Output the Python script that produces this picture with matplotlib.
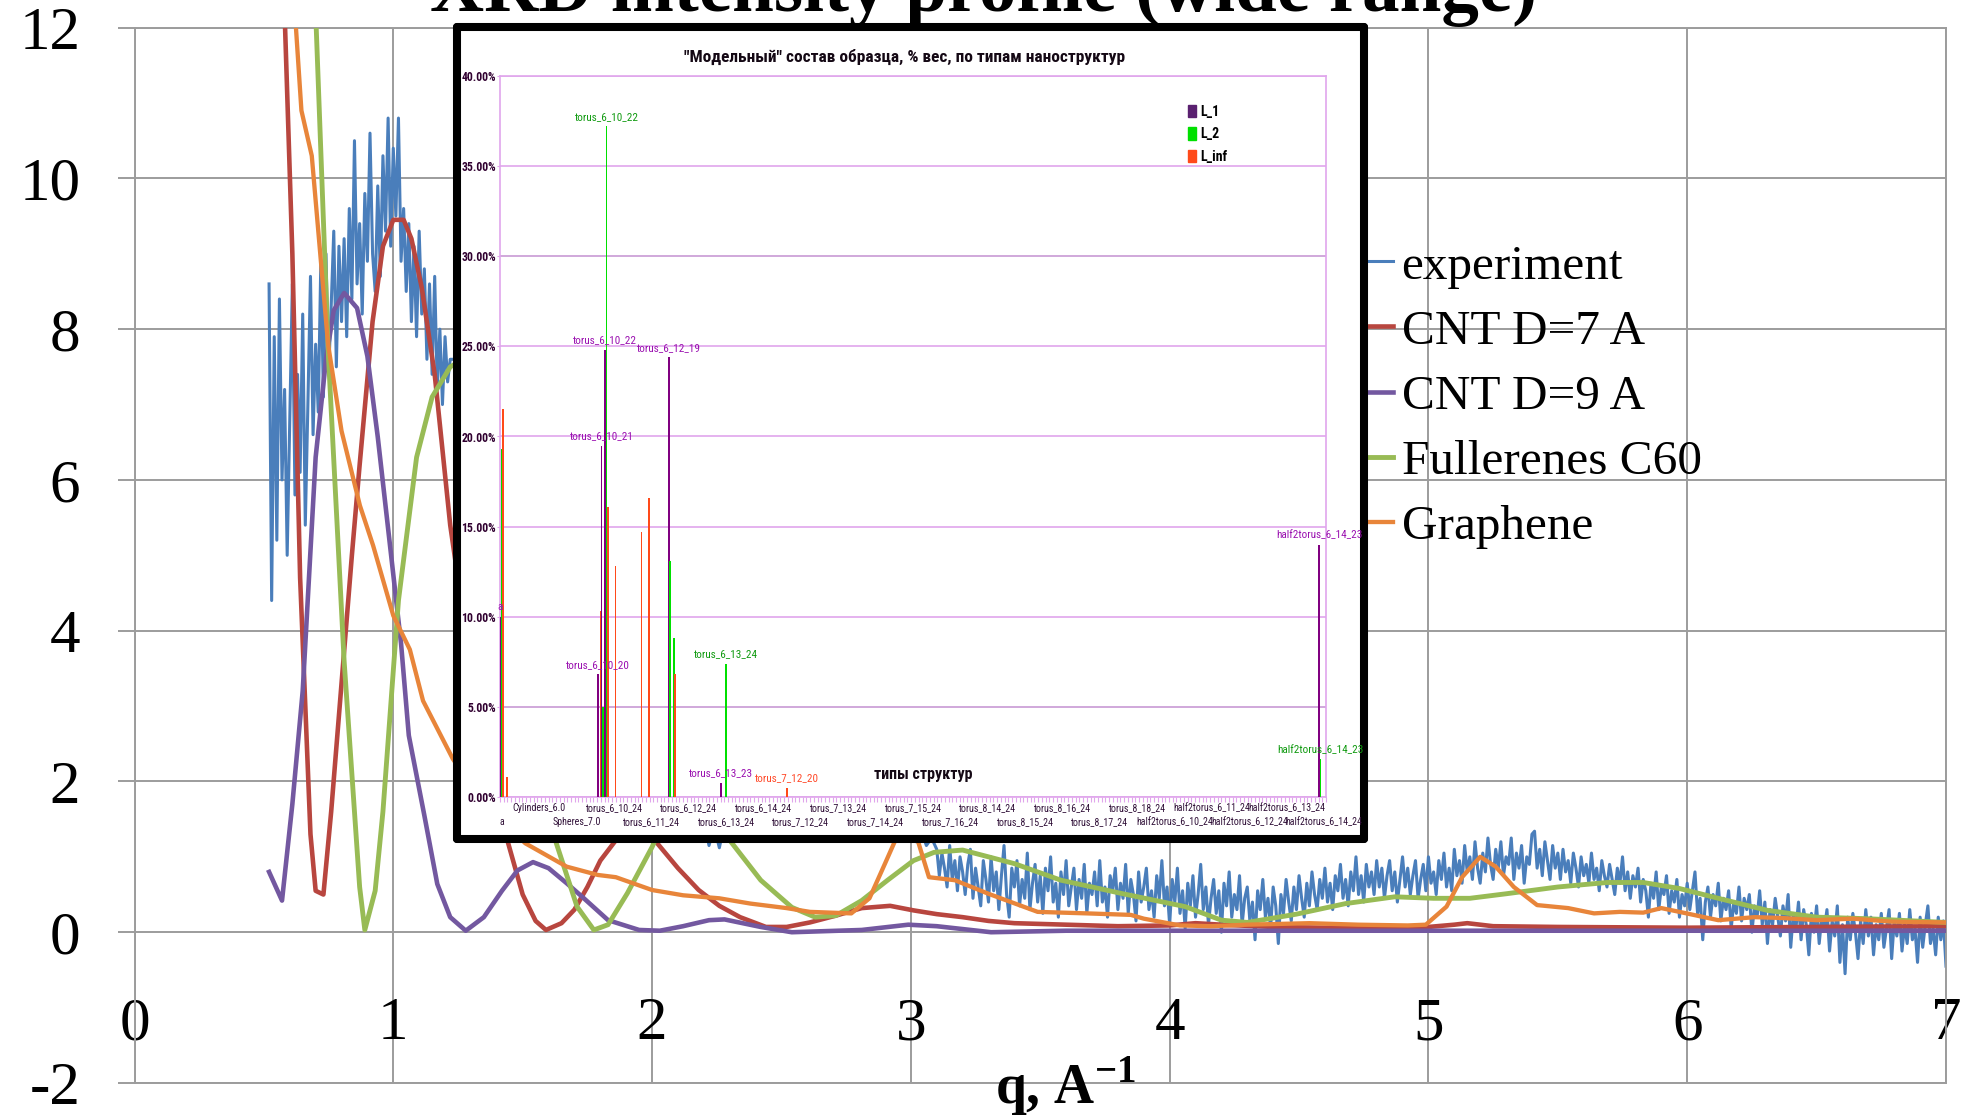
import numpy as np
import matplotlib
matplotlib.use('Agg')
import matplotlib.pyplot as plt
from matplotlib import font_manager as fm
from matplotlib.font_manager import FontProperties
from matplotlib.patches import Patch
from matplotlib.ticker import PercentFormatter

plt.rcParams['font.family'] = ['Liberation Serif', 'DejaVu Serif']
plt.rcParams['mathtext.fontset'] = 'custom'
plt.rcParams['mathtext.rm'] = 'Liberation Serif'
plt.rcParams['mathtext.bf'] = 'Liberation Serif:bold'
plt.rcParams['axes.unicode_minus'] = False


def pick_narrow():
    """Narrowest sans face available for the small chart texts."""
    faces = [(f.name, str(f.stretch)) for f in fm.fontManager.ttflist]
    for nm in ['Liberation Sans Narrow', 'Arial Narrow', 'Roboto Condensed', 'Noto Sans Condensed',
               'Open Sans Condensed']:
        if any(n == nm for n, s in faces):
            return dict(family=[nm, 'DejaVu Sans']), 1.0
    if any(n == 'DejaVu Sans' and 'condensed' in s for n, s in faces):
        return dict(family=['DejaVu Sans'], stretch='condensed'), 0.88
    return dict(family=['Liberation Sans', 'DejaVu Sans']), 0.8


NARROW, NSCALE = pick_narrow()


def nfont(size, weight='normal'):
    return FontProperties(size=size * NSCALE, weight=weight, **NARROW)


# ---------------- XRD profiles ----------------
# experiment, four runs: (first q, step, intensities)
exp_q_a, exp_dq_a = 0.52, 0.01
exp_I_a = [8.6, 4.4, 7.9, 5.2, 8.4, 6.0, 7.2, 5.0, 6.8, 8.6,
           5.8, 7.4, 6.1, 8.2, 5.4, 7.0, 8.7, 6.6, 7.8, 6.9,
           8.9, 7.1, 9.0, 7.4, 8.3, 9.3, 7.5, 9.1, 8.1, 9.2,
           7.9, 9.6, 8.4, 10.5, 8.6, 9.4, 8.2, 9.8, 8.9, 10.6,
           9.0, 8.5, 9.9, 8.7, 10.3, 9.3, 10.8, 9.1, 10.4, 9.5,
           10.8, 8.9, 9.6, 8.5, 9.4, 8.1, 9.1, 7.9, 9.3, 8.2,
           8.8, 7.6, 8.6, 7.4, 8.7, 7.2, 8.0, 7.0, 7.9, 7.3,
           7.6]
exp_q_b, exp_dq_b = 1.24, 0.02
exp_I_b = [7.6, 7.0, 7.4, 6.6, 6.9, 6.2, 6.4, 5.8, 6.0, 5.3, 5.5, 4.9, 5.0, 4.5,
           4.6, 4.1, 4.2, 3.8, 3.9, 3.5, 3.6, 3.2, 3.3, 3.0, 3.0, 2.7, 2.8, 2.5, 2.6,
           2.3, 2.4, 2.2, 2.3, 2.0, 2.1, 1.9, 2.0, 1.8, 1.9, 1.7, 1.8, 1.6, 1.7, 1.5,
           1.6, 1.45, 1.55, 1.4, 1.5,
           1.15, 1.4, 1.12, 1.45, 1.35, 1.5, 1.4, 1.55, 1.45, 1.6, 1.5, 1.65, 1.5, 1.7, 1.55,
           1.7, 1.6, 1.8, 1.65, 1.85, 1.7, 1.9, 1.75, 1.9, 1.8, 1.95, 1.8, 1.9, 1.75, 1.85,
           1.7, 1.8, 1.6, 1.7, 1.5, 1.6, 1.4, 1.5, 1.3, 1.45, 1.2, 1.35, 1.15, 1.25]
exp_q_c, exp_dq_c = 3.10, 0.01
exp_I_c = [1.10, 0.75, 1.05, 0.85, 0.60, 1.15, 0.70, 0.95, 0.55, 1.00,
           0.80, 0.50, 0.90, 1.10, 0.45, 0.85, 0.60, 0.35, 0.95, 0.70,
           0.40, 1.00, 0.55, 0.80, 0.30, 0.75, 1.15, 0.50, 0.20, 0.85,
           0.60, 0.95, 0.35, 0.70, 0.45, 1.05, 0.30, 0.65, 0.90, 0.40,
           0.75, 0.25, 0.85, 0.55, 1.00, 0.40, 0.65, 0.20, 0.80, 0.50,
           0.95, 0.35, 0.60, 0.85, 0.30, 0.70, 0.45, 0.90, 0.25, 0.65,
           0.50, 0.80, 0.35, 0.95, 0.40, 0.60, 0.20, 0.75, 0.55, 0.85,
           0.30, 0.65, 0.45, 0.90, 0.25, 0.70, 0.50, 0.15, 0.80, 0.40,
           0.60, 0.85, 0.30, 0.55, 0.20, 0.75, 0.45, 0.95, 0.35, 0.60,
           0.10, 0.70, 0.40, 0.85, 0.25, 0.55, 0.05, 0.65, 0.35, 0.75,
           0.20, 0.50, 0.90, 0.30, 0.60, 0.10, 0.45, 0.70, 0.25, 0.55,
           0.00, 0.65, 0.35, 0.80, 0.20, 0.50, 0.30, 0.75, 0.10, 0.45,
           0.60, 0.15, 0.40, -0.10, 0.55, 0.30, 0.70, 0.20, 0.45, 0.05,
           0.60, 0.35, -0.15, 0.50, 0.25, 0.70, 0.40, 0.15, 0.60, 0.30,
           0.75, 0.45, 0.20, 0.65, 0.35, 0.80, 0.50, 0.30, 0.70, 0.45,
           0.85, 0.40, 0.65, 0.30, 0.75, 0.55, 0.90, 0.45, 0.70, 0.35,
           0.80, 0.55, 1.00, 0.50, 0.75, 0.40, 0.90, 0.60, 0.80, 0.50,
           0.95]
exp_q_d, exp_dq_d = 4.81, 0.01
exp_I_d = [0.60, 0.85, 0.45, 0.75, 0.95, 0.55, 0.80, 0.40, 0.70, 1.00,
           0.60, 0.85, 0.50, 0.75, 0.95, 0.45, 0.70, 0.90, 0.55, 1.00,
           0.65, 0.80, 0.50, 0.95, 0.70, 1.05, 0.60, 0.85, 0.55, 1.10,
           0.75, 0.95, 0.65, 1.15, 0.80, 1.00, 0.70, 1.20, 0.85, 0.65,
           1.05, 0.80, 1.25, 0.90, 0.70, 1.10, 0.85, 1.20, 0.75, 1.00,
           0.90, 1.25, 0.70, 1.05, 0.85, 1.15, 0.65, 1.00, 0.90, 1.30,
           1.34, 0.85, 1.10, 0.75, 1.20, 0.95, 0.70, 1.15, 0.85, 1.05,
           0.70, 1.10, 0.80, 0.95, 0.65, 1.05, 0.85, 0.60, 1.00, 0.75,
           0.90, 0.65, 1.05, 0.70, 0.85, 0.55, 0.95, 0.75, 0.60, 0.90,
           0.70, 0.50, 0.85, 0.65, 1.00, 0.55, 0.80, 0.45, 0.75, 0.60,
           0.85, 0.40, 0.70, 0.55, 0.20, 0.65, 0.45, 0.80, 0.30, 0.60,
           0.50, 0.75, 0.25, 0.55, 0.40, 0.70, 0.20, 0.50, 0.35, 0.65,
           0.30, 0.55, 0.80, 0.25, 0.45, -0.10, 0.40, 0.60, 0.20, 0.50,
           0.35, 0.65, 0.15, 0.45, 0.30, 0.55, 0.05, 0.40, 0.25, 0.60,
           0.15, 0.45, 0.30, 0.50, 0.00, 0.35, 0.20, 0.55, 0.10, 0.40,
           -0.15, 0.30, 0.10, 0.45, 0.20, -0.05, 0.35, 0.15, 0.50, -0.20,
           0.25, 0.05, 0.40, -0.10, 0.30, 0.10, -0.30, 0.25, 0.00, 0.35,
           -0.15, 0.20, 0.05, 0.30, -0.25, 0.15, -0.05, 0.35, -0.40, 0.10,
           -0.55, 0.20, -0.10, 0.25, 0.00, -0.35, 0.15, -0.15, 0.30, -0.05,
           0.20, -0.30, 0.10, -0.10, 0.25, -0.20, 0.05, 0.30, -0.35, 0.15,
           -0.05, 0.25, -0.25, 0.10, -0.15, 0.30, -0.10, 0.05, -0.40, 0.20,
           -0.20, 0.10, 0.35, -0.15, 0.05, -0.30, 0.20, -0.10, 0.15, -0.45]

cnt7_q = [0.52, 0.55, 0.58, 0.61, 0.64, 0.68, 0.70, 0.73, 0.76, 0.80, 0.84, 0.87, 0.92, 0.96, 1.00, 1.04,
          1.07, 1.11, 1.16, 1.22, 1.30, 1.37, 1.43, 1.50, 1.55, 1.59, 1.65, 1.70, 1.75, 1.80, 1.86, 1.94,
          2.02, 2.10, 2.18, 2.26, 2.34, 2.44, 2.52, 2.61, 2.71, 2.81, 2.92, 3.01, 3.10, 3.20, 3.30, 3.40,
          3.60, 3.80, 4.00, 4.10, 4.20, 4.40, 4.60, 4.80, 5.00, 5.10, 5.15, 5.25, 5.50, 6.00, 6.50, 7.00]
cnt7_I = [30, 22, 12.2, 9.0, 4.7, 1.3, 0.55, 0.5, 1.6, 3.3, 5.0, 6.2, 8.1, 9.1, 9.45, 9.45,
          9.2, 8.55, 7.4, 5.4, 3.5, 2.2, 1.35, 0.5, 0.15, 0.03, 0.12, 0.3, 0.6, 0.95, 1.22, 1.38,
          1.18, 0.85, 0.56, 0.35, 0.2, 0.07, 0.07, 0.13, 0.22, 0.32, 0.35, 0.29, 0.24, 0.2, 0.15, 0.12,
          0.1, 0.08, 0.09, 0.12, 0.1, 0.07, 0.06, 0.06, 0.07, 0.1, 0.12, 0.08, 0.07, 0.06, 0.07, 0.08]

cnt9_q = [0.52, 0.57, 0.61, 0.65, 0.70, 0.74, 0.77, 0.81, 0.86, 0.90, 0.94, 0.99, 1.03, 1.06, 1.12,
          1.17, 1.22, 1.28, 1.35, 1.42, 1.48, 1.54, 1.60, 1.67, 1.73, 1.83, 1.95, 2.03, 2.12, 2.22,
          2.28, 2.42, 2.54, 2.81, 2.99, 3.10, 3.31, 3.60, 4.00, 4.50, 5.00, 5.50, 6.00, 6.50, 7.00]
cnt9_I = [0.8, 0.42, 1.7, 3.2, 6.3, 7.6, 8.25, 8.48, 8.28, 7.64, 6.57, 5.05, 3.83, 2.61, 1.55,
          0.64, 0.2, 0.02, 0.2, 0.55, 0.82, 0.93, 0.85, 0.65, 0.47, 0.16, 0.03, 0.02, 0.08, 0.16,
          0.17, 0.07, 0.0, 0.03, 0.1, 0.08, 0.0, 0.02, 0.02, 0.02, 0.02, 0.02, 0.02, 0.02, 0.02]

c60_q = [0.52, 0.60, 0.66, 0.70, 0.75, 0.81, 0.87, 0.89, 0.93, 0.96, 1.02, 1.09, 1.15, 1.22, 1.30,
         1.38, 1.45, 1.52, 1.58, 1.63, 1.71, 1.775, 1.83, 1.905, 2.00, 2.08, 2.15, 2.22, 2.30, 2.42,
         2.54, 2.63, 2.71, 2.81, 2.91, 3.01, 3.09, 3.20, 3.40, 3.58, 3.82, 4.06, 4.20, 4.30, 4.49,
         4.68, 4.87, 5.02, 5.16, 5.30, 5.50, 5.69, 5.83, 5.97, 6.12, 6.31, 6.50, 6.69, 7.00]
c60_I = [40, 30, 20, 12.2, 7.6, 3.6, 0.6, 0.03, 0.55, 1.6, 4.4, 6.3, 7.1, 7.5, 7.65,
         7.0, 5.5, 3.5, 2.0, 1.18, 0.34, 0.03, 0.1, 0.52, 1.13, 1.75, 2.0, 1.8, 1.22, 0.69,
         0.33, 0.2, 0.22, 0.42, 0.69, 0.95, 1.06, 1.09, 0.91, 0.69, 0.51, 0.34, 0.16, 0.13, 0.24,
         0.38, 0.47, 0.45, 0.45, 0.51, 0.6, 0.66, 0.66, 0.58, 0.45, 0.29, 0.2, 0.18, 0.13]

graph_q = [0.52, 0.58, 0.62, 0.645, 0.685, 0.748, 0.80, 0.871, 0.922, 1.00, 1.064, 1.115, 1.23, 1.30,
           1.40, 1.51, 1.67, 1.79, 1.86, 2.00, 2.12, 2.26, 2.38, 2.52, 2.61, 2.77, 2.84, 2.90, 2.94,
           2.98, 3.03, 3.07, 3.17, 3.30, 3.49, 3.68, 3.85, 3.90, 4.04, 4.16, 4.30, 4.54, 4.73, 4.92,
           4.99, 5.07, 5.13, 5.20, 5.26, 5.33, 5.42, 5.54, 5.64, 5.74, 5.83, 5.90, 5.97, 6.12, 6.26,
           6.36, 6.50, 6.64, 6.79, 7.00]
graph_I = [40, 22, 12.2, 10.9, 10.3, 7.8, 6.65, 5.66, 5.13, 4.2, 3.75, 3.07, 2.3, 1.95,
           1.55, 1.18, 0.87, 0.76, 0.73, 0.56, 0.49, 0.45, 0.38, 0.32, 0.27, 0.25, 0.45, 0.91, 1.22,
           1.55, 1.18, 0.73, 0.69, 0.51, 0.27, 0.25, 0.23, 0.18, 0.09, 0.08, 0.1, 0.12, 0.1, 0.09,
           0.1, 0.34, 0.73, 1.0, 0.87, 0.6, 0.36, 0.32, 0.25, 0.27, 0.26, 0.32, 0.27, 0.16, 0.2,
           0.19, 0.16, 0.18, 0.14, 0.13]

series_names = ['experiment', 'CNT D=7 A', 'CNT D=9 A', 'Fullerenes C60', 'Graphene']

# ---------------- model composition (inset) ----------------
inset_cats = ['a']
inset_cats += ['Cylinders_%.1f' % v for v in np.arange(1.5, 6.01, 0.5)]
inset_cats += ['Spheres_%.1f' % v for v in np.arange(2.5, 7.01, 0.5)]
for R, r in [(6, 10), (6, 11), (6, 12), (6, 13), (6, 14), (7, 12), (7, 13), (7, 14), (7, 15),
             (7, 16), (8, 14), (8, 15), (8, 16), (8, 17), (8, 18)]:
    inset_cats += ['torus_%d_%d_%d' % (R, r, n) for n in range(15, 25)]
for r in range(10, 15):
    inset_cats += ['half2torus_6_%d_%d' % (r, n) for n in range(15, 25)]

L1_cats = ['a', 'torus_6_10_20', 'torus_6_10_21', 'torus_6_10_22', 'torus_6_12_19', 'torus_6_13_23',
           'half2torus_6_14_23']
L1_vals = [10.0, 6.8, 19.5, 24.8, 24.4, 0.8, 14.0]
L2_cats = ['a', 'torus_6_10_21', 'torus_6_10_22', 'torus_6_12_19', 'torus_6_12_20', 'torus_6_13_24',
           'half2torus_6_14_23']
L2_vals = [19.3, 5.0, 37.2, 13.1, 8.8, 7.4, 2.1]
Linf_cats = ['a', 'Cylinders_1.5', 'torus_6_10_20', 'torus_6_10_22', 'torus_6_10_24', 'torus_6_11_21',
             'torus_6_11_23', 'torus_6_12_20', 'torus_7_12_20']
Linf_vals = [21.5, 1.1, 10.3, 16.1, 12.8, 14.7, 16.6, 6.8, 0.5]

# bars that carry a name tag
L1_tagged = L1_cats
L2_tagged = ['torus_6_10_22', 'torus_6_13_24', 'half2torus_6_14_23']
Linf_tagged = ['torus_7_12_20']

W, H = 1970, 1119
GRID = '#9c9c9c'

fig = plt.figure(figsize=(W / 100, H / 100), dpi=100)

# ---------------- main XRD plot ----------------
ax = fig.add_axes([134.5 / W, 1 - 1083 / H, (1946 - 134.5) / W, (1083 - 27.6) / H])

runs = [(exp_q_a, exp_dq_a, exp_I_a), (exp_q_b, exp_dq_b, exp_I_b),
        (exp_q_c, exp_dq_c, exp_I_c), (exp_q_d, exp_dq_d, exp_I_d)]
exp_q = np.concatenate([q0 + dq * np.arange(len(v)) for q0, dq, v in runs])
exp_I = np.concatenate([v for q0, dq, v in runs])

curves = [(exp_q, exp_I, '#4a7ebb', 2.2),
          (cnt7_q, cnt7_I, '#b8463f', 3.3),
          (cnt9_q, cnt9_I, '#7358a0', 3.3),
          (c60_q, c60_I, '#98bb55', 3.5),
          (graph_q, graph_I, '#e8853a', 3.1)]
for k, (q, I, col, lw) in enumerate(curves):
    ax.plot(q, I, color=col, lw=lw, label=series_names[k], zorder=2 + k,
            solid_joinstyle='round')

ax.set_xlim(0, 7)
ax.set_ylim(-2, 12)
ax.set_xticks(range(0, 8))
ax.set_yticks(range(-2, 13, 2))
ax.grid(True, color=GRID, lw=1.4)
ax.set_axisbelow(True)
for sp in ax.spines.values():
    sp.set_color(GRID)
    sp.set_linewidth(1.4)
ax.tick_params(axis='y', length=12, width=1.4, color=GRID, pad=27, labelsize=44)
ax.tick_params(axis='x', length=0, pad=-62, labelsize=44)

ax.legend(loc='upper left', bbox_to_anchor=(1366 / W, 1 - 244 / H), bbox_transform=fig.transFigure,
          frameon=False, fontsize=35.5, handlelength=0.55, handletextpad=0.17, labelspacing=0.42,
          borderpad=0, borderaxespad=0)

fig.text(984 / W, 1 - 11 / H, 'XRD intensity profile (wide range)', ha='center', va='baseline',
         fontsize=54, fontweight='bold')
fig.text(1065 / W, 1 - 1104 / H, r'q, A$^{\mathbf{-1}}$', ha='center', va='baseline',
         fontsize=40, fontweight='bold')

# ---------------- inset panel ----------------
panel = fig.add_axes([457 / W, 1 - 839 / H, (1364 - 457) / W, (839 - 27) / H], zorder=2)
panel.set_xticks([])
panel.set_yticks([])
panel.set_facecolor('white')
for sp in panel.spines.values():
    sp.set_linewidth(5.8)
    sp.set_color('black')
    sp.set_capstyle('round')

PINK = '#e0a6ec'
bx = fig.add_axes([500 / W, 1 - 797 / H, 826 / W, 721 / H], zorder=3)
bx.set_facecolor('none')

pos = {name: i for i, name in enumerate(inset_cats)}
bar_sets = [(L1_cats, L1_vals, L1_tagged, -0.36, '#800080', '#9a10b0'),
            (L2_cats, L2_vals, L2_tagged, 0.0, '#00e000', '#109a10'),
            (Linf_cats, Linf_vals, Linf_tagged, 0.36, '#ff4a1a', '#ff4a2a')]
for cats, vals, tagged, off, col, tcol in bar_sets:
    x = np.array([pos[c] for c in cats]) + off
    bx.bar(x, vals, width=0.45, color=col, lw=0, zorder=3)
    for c, xv, v in zip(cats, x, vals):
        if c in tagged:
            bx.text(xv, v + 0.25, c, ha='center', va='bottom', fontproperties=nfont(8),
                    color=tcol, clip_on=False, zorder=4)

bx.set_xlim(-0.5, len(inset_cats) - 0.5)
bx.set_ylim(0, 40)
bx.set_yticks(range(0, 41, 5))
bx.yaxis.set_major_formatter(PercentFormatter(xmax=100, decimals=2))
bx.grid(True, axis='y', color=PINK, lw=1.2)
bx.set_axisbelow(True)
for gl, v in zip(bx.get_ygridlines(), range(0, 41, 5)):
    if v in (5, 30):
        gl.set_color('#c89ad4')
for sp in bx.spines.values():
    sp.set_color(PINK)
    sp.set_linewidth(1.2)

# category names every tenth slot, staggered over two rows
tick_idx = list(range(0, len(inset_cats), 10))
bx.set_xticks(tick_idx)
bx.set_xticklabels([inset_cats[i] for i in tick_idx], color='#301038')
for t in bx.get_xticklabels():
    t.set_fontproperties(nfont(7.2))
bx.set_xticks(np.arange(-0.5, len(inset_cats), 1), minor=True)
bx.tick_params(axis='x', which='major', length=0)
bx.tick_params(axis='x', which='minor', length=3.6, width=0.8, color=PINK)
for j, tk in enumerate(bx.xaxis.get_major_ticks()):
    tk.set_pad(4.5 if j % 2 else 14.5)
bx.tick_params(axis='y', length=2, width=0.8, color=PINK, pad=1, labelcolor='#300030')
for t in bx.get_yticklabels():
    t.set_fontproperties(nfont(8.5, 'bold'))

bx.text(905 / W, 1 - 57 / H, '"Модельный" состав образца, % вес, по типам наноструктур',
        transform=fig.transFigure, ha='center', va='center', fontproperties=nfont(12.5, 'bold'),
        color='#140814')
bx.text(923 / W, 1 - 775 / H, 'типы структур', transform=fig.transFigure, ha='center', va='center',
        fontproperties=nfont(11.5, 'bold'), color='#140814')

handles = [Patch(color='#5a2070'), Patch(color='#00e000'), Patch(color='#ff4a1a')]
bx.legend(handles, ['L_1', 'L_2', 'L_inf'], loc='upper left', bbox_to_anchor=(1188 / W, 1 - 105 / H),
          bbox_transform=fig.transFigure, frameon=False, prop=nfont(10, 'bold'),
          handlelength=0.6, handleheight=1.0, handletextpad=0.3, labelspacing=0.6, borderpad=0,
          borderaxespad=0)

fig.savefig('out.png', dpi=100)
